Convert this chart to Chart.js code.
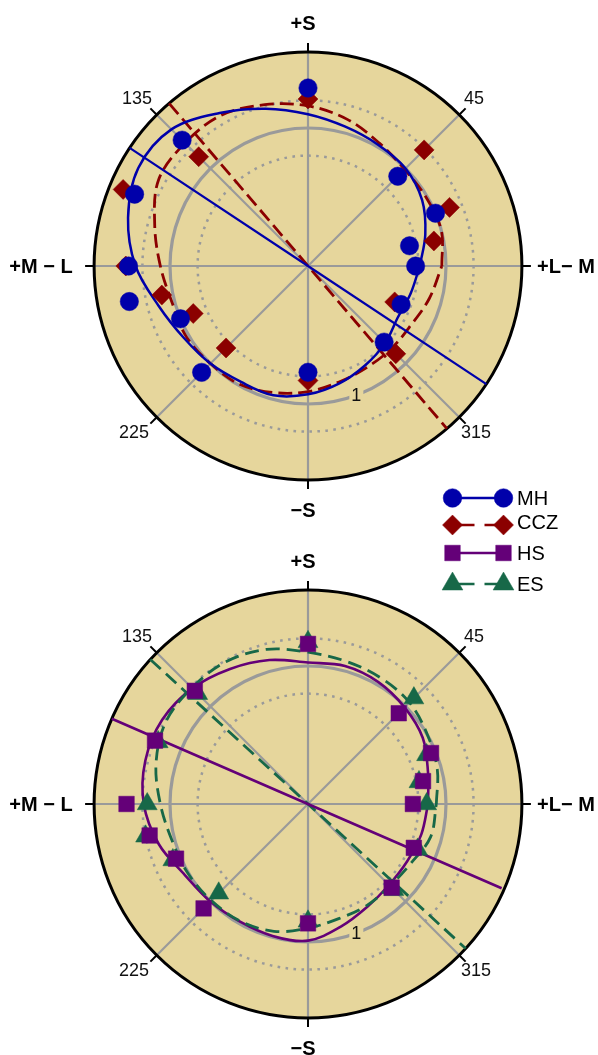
<!DOCTYPE html>
<html>
<head>
<meta charset="utf-8">
<script src="https://cdn.jsdelivr.net/npm/chart.js@4.4.0/dist/chart.umd.min.js"></script>
<style>
  html, body { margin: 0; padding: 0; background: #ffffff; }
  body { width: 598px; height: 1055px; position: relative; overflow: hidden; }
  canvas { position: absolute; left: 0; }
  #top { top: 0; }
  #bot { top: 538px; }
</style>
</head>
<body>
<canvas id="top" width="598" height="600"></canvas>
<canvas id="bot" width="598" height="517"></canvas>
<script>
// ---------------- DATA (angle in degrees, radius in normalized units) ----------------
const seriesNames = ['MH', 'CCZ', 'HS', 'ES'];

// Top panel: MH (circles) and CCZ (diamonds)
const mhTheta  = [0, 11.25, 22.5, 45, 90, 135, 157.5, 180, 191.25, 202.5, 225, 270, 315, 337.5];
const mhR      = [0.78, 0.75, 1.00, 0.92, 1.29, 1.29, 1.36, 1.30, 1.32, 1.00, 1.09, 0.77, 0.78, 0.73];
const cczTheta = [11.25, 22.5, 45, 90, 135, 157.5, 180, 191.25, 202.5, 225, 270, 315, 337.5];
const cczR     = [0.93, 1.11, 1.19, 1.21, 1.12, 1.45, 1.32, 1.08, 0.90, 0.84, 0.83, 0.90, 0.68];

// Bottom panel: HS (squares) and ES (triangles)
const hsTheta  = [0, 11.25, 22.5, 45, 90, 135, 157.5, 180, 191.25, 202.5, 225, 270, 315, 337.5];
const hsR      = [0.76, 0.85, 0.965, 0.93, 1.16, 1.16, 1.20, 1.315, 1.17, 1.035, 1.07, 0.865, 0.857, 0.83];
const esTheta  = [0, 11.25, 22.5, 45, 90, 135, 157.5, 180, 191.25, 202.5, 225, 270, 315, 337.5];
const esR      = [0.86, 0.82, 0.93, 1.085, 1.175, 1.13, 1.175, 1.165, 1.20, 1.06, 0.915, 0.85, 0.88, 0.86];

// Fitted contours, read every 15 degrees
const fitTheta = [0, 15, 30, 45, 60, 75, 90, 105, 120, 135, 150, 165, 180, 195, 210, 225, 240, 255, 270, 285, 300, 315, 330, 345];
const mhFitR   = [0.81, 0.88, 0.955, 1.00, 1.015, 1.045, 1.10, 1.18, 1.28, 1.40, 1.42, 1.35, 1.25, 1.12, 1.04, 1.00, 0.97, 0.97, 0.93, 0.88, 0.83, 0.79, 0.75, 0.77];
const cczFitR  = [0.97, 1.00, 0.99, 0.99, 1.03, 1.10, 1.16, 1.21, 1.26, 1.26, 1.25, 1.15, 1.07, 1.02, 1.02, 1.00, 0.99, 0.95, 0.91, 0.87, 0.85, 0.85, 0.86, 0.91];
const hsFitR   = [0.87, 0.90, 0.96, 0.99, 1.02, 1.035, 1.025, 1.08, 1.13, 1.185, 1.22, 1.22, 1.19, 1.12, 1.03, 1.00, 0.985, 0.99, 0.99, 0.92, 0.86, 0.83, 0.83, 0.85];
const esFitR   = [0.93, 0.97, 1.00, 1.04, 1.055, 1.07, 1.10, 1.16, 1.19, 1.19, 1.19, 1.14, 1.07, 1.02, 1.005, 0.99, 0.98, 0.955, 0.90, 0.86, 0.85, 0.84, 0.86, 0.92];

// Principal-axis lines: angle and extent of each end
const mhAxisAngle = 146.5,  mhAxisExt = [1.55, 1.55];
const cczAxisAngle = 130.5, cczAxisExt = [1.55, 1.55];
const hsAxisAngle = 156.5,  hsAxisExt = [1.55, 1.53];
const esAxisAngle = 137.5,  esAxisExt = [1.55, 1.55];

// Polar grid
const gridDotted = [0.8, 1.2];
const gridSolid = [1.0];
const gridOuter = 1.55;
const spokeAngles = [0, 45, 90, 135, 180, 225, 270, 315];
const angleLabels = ['45', '135', '225', '315'];
const ringLabel = '1';
const axisLabels = { top: '+S', bottom: '\u2212S', left: '+M \u2212 L', right: '+L\u2212 M' };

// ---------------- helpers ----------------
const D2R = Math.PI / 180;
function toXY(thetas, rs) {
  return thetas.map((t, i) => ({ x: rs[i] * Math.cos(t * D2R), y: rs[i] * Math.sin(t * D2R) }));
}
function closedXY(thetas, rs) { const p = toXY(thetas, rs); return p.concat([p[0]]); }
function axisXY(angle, ext) {
  return toXY([angle, angle + 180], ext);
}

const COL = { MH: '#0000aa', CCZ: '#8b0000', HS: '#640078', ES: '#176848' };
const TAN = 'rgb(230,214,156)';
const GRID = '#9a9a9a';
const FONT = '"Liberation Sans", Arial, sans-serif';

// polar background plugin
const polarBg = {
  id: 'polarBg',
  beforeDatasetsDraw(chart) {
    const { ctx, scales: { x, y } } = chart;
    const cx = x.getPixelForValue(0), cy = y.getPixelForValue(0);
    const u = x.getPixelForValue(1) - cx;
    const R = gridOuter * u;
    ctx.save();
    ctx.beginPath(); ctx.arc(cx, cy, R, 0, Math.PI * 2); ctx.fillStyle = TAN; ctx.fill();
    ctx.strokeStyle = GRID; ctx.lineWidth = 2.5; ctx.setLineDash([2.6, 5.4]);
    gridDotted.forEach(r => { ctx.beginPath(); ctx.arc(cx, cy, r * u, 0, Math.PI * 2); ctx.stroke(); });
    ctx.setLineDash([]);
    ctx.lineWidth = 2.2; ctx.strokeStyle = GRID;
    spokeAngles.forEach(a => {
      ctx.beginPath(); ctx.moveTo(cx, cy);
      ctx.lineTo(cx + R * Math.cos(a * D2R), cy - R * Math.sin(a * D2R)); ctx.stroke();
    });
    ctx.lineWidth = 3.2;
    gridSolid.forEach(r => { ctx.beginPath(); ctx.arc(cx, cy, r * u, 0, Math.PI * 2); ctx.stroke(); });
    const la = 290.5 * D2R;
    const lx = cx + u * Math.cos(la), ly = cy - u * Math.sin(la);
    ctx.fillStyle = TAN; ctx.fillRect(lx - 7, ly - 9, 14, 18);
    ctx.fillStyle = '#111'; ctx.font = '18px ' + FONT; ctx.textAlign = 'center'; ctx.textBaseline = 'middle';
    ctx.fillText(ringLabel, lx, ly + 1);
    ctx.beginPath(); ctx.arc(cx, cy, R, 0, Math.PI * 2); ctx.lineWidth = 3; ctx.strokeStyle = '#000'; ctx.stroke();
    ctx.lineWidth = 2;
    spokeAngles.forEach(a => {
      const c = Math.cos(a * D2R), s = Math.sin(a * D2R);
      ctx.beginPath(); ctx.moveTo(cx + R * c, cy - R * s); ctx.lineTo(cx + (R + 9) * c, cy - (R + 9) * s); ctx.stroke();
    });
    ctx.font = '18px ' + FONT; ctx.fillStyle = '#111'; ctx.textBaseline = 'middle';
    const te = R + 8;
    const d = te * Math.SQRT1_2;
    ctx.textAlign = 'left';  ctx.fillText(angleLabels[0], cx + d - 1, cy - d - 10);
    ctx.textAlign = 'right'; ctx.fillText(angleLabels[1], cx - d + 1, cy - d - 10);
    ctx.textAlign = 'right'; ctx.fillText(angleLabels[2], cx - d - 2, cy + d + 10);
    ctx.textAlign = 'left';  ctx.fillText(angleLabels[3], cx + d - 4, cy + d + 10);
    ctx.font = 'bold 20px ' + FONT; ctx.fillStyle = '#000'; ctx.textAlign = 'center';
    ctx.fillText(axisLabels.top, cx - 5, cy - 242);
    ctx.fillText(axisLabels.bottom, cx - 5, cy + 245);
    ctx.fillText(axisLabels.left, cx - 267, cy + 1);
    ctx.fillText(axisLabels.right, cx + 258, cy + 1);
    ctx.restore();
  }
};

const legendItems = [
  { name: seriesNames[0], color: COL.MH,  style: 'circle',  radius: 9.3, dash: [],       y: 498 },
  { name: seriesNames[1], color: COL.CCZ, style: 'rectRot', radius: 10,  dash: [22, 10], y: 525 },
  { name: seriesNames[2], color: COL.HS,  style: 'rect',    radius: 11,  dash: [],       y: 553 },
  { name: seriesNames[3], color: COL.ES,  style: 'triangle',radius: 12,  dash: [22, 10], y: 584 }
];
const legendPlugin = {
  id: 'pairLegend',
  afterDraw(chart) {
    const ctx = chart.ctx;
    ctx.save();
    legendItems.forEach(it => {
      const x1 = 452.5, x2 = 503.5;
      ctx.beginPath(); ctx.setLineDash(it.dash); ctx.strokeStyle = it.color; ctx.lineWidth = 2.5;
      ctx.moveTo(x1, it.y); ctx.lineTo(x2, it.y); ctx.stroke(); ctx.setLineDash([]);
      ctx.fillStyle = it.color; ctx.strokeStyle = it.color; ctx.lineWidth = 0.5;
      [x1, x2].forEach(px => Chart.helpers.drawPoint(ctx, { pointStyle: it.style, radius: it.radius, rotation: 0, borderWidth: 0.5 }, px, it.y));
      ctx.fillStyle = '#000'; ctx.font = '20px ' + FONT; ctx.textAlign = 'left'; ctx.textBaseline = 'middle';
      ctx.fillText(it.name, 517, it.y + (it.name === 'CCZ' ? -2 : 1));
    });
    ctx.restore();
  }
};

function lineDs(label, data, color, width, dash, order) {
  return { label, data, showLine: true, borderColor: color, borderWidth: width, borderDash: dash,
           pointRadius: 0, tension: 0.35, fill: false, order, clip: false };
}
function markDs(label, data, color, style, radius, order) {
  return { label, data, showLine: false, pointStyle: style, pointRadius: radius, pointHoverRadius: radius,
           backgroundColor: color, borderColor: color, borderWidth: 0.5, order, clip: false };
}

function makeOptions(canvasH) {
  const half = 1.6 * 138;
  return {
    responsive: false, maintainAspectRatio: false, animation: false, events: [],
    layout: { padding: { left: 308 - half, right: 598 - (308 + half), top: 266 - half, bottom: canvasH - (266 + half) } },
    plugins: { legend: { display: false }, tooltip: { enabled: false }, title: { display: false } },
    scales: {
      x: { type: 'linear', min: -1.6, max: 1.6, display: false },
      y: { type: 'linear', min: -1.6, max: 1.6, display: false }
    }
  };
}

new Chart(document.getElementById('top'), {
  type: 'scatter',
  data: { datasets: [
    lineDs('CCZ fit', closedXY(fitTheta, cczFitR), COL.CCZ, 2.8, [14, 6], 6),
    lineDs('CCZ axis', axisXY(cczAxisAngle, cczAxisExt), COL.CCZ, 2.8, [14, 6], 5),
    lineDs('MH fit', closedXY(fitTheta, mhFitR), COL.MH, 2.5, [], 4),
    lineDs('MH axis', axisXY(mhAxisAngle, mhAxisExt), COL.MH, 2.2, [], 3),
    markDs('CCZ', toXY(cczTheta, cczR), COL.CCZ, 'rectRot', 10, 2),
    markDs('MH', toXY(mhTheta, mhR), COL.MH, 'circle', 9.2, 1)
  ] },
  options: makeOptions(600),
  plugins: [polarBg, legendPlugin]
});

new Chart(document.getElementById('bot'), {
  type: 'scatter',
  data: { datasets: [
    lineDs('HS fit', closedXY(fitTheta, hsFitR), COL.HS, 2.6, [], 6),
    lineDs('ES fit', closedXY(fitTheta, esFitR), COL.ES, 2.8, [14, 7], 5),
    lineDs('ES axis', axisXY(esAxisAngle, esAxisExt), COL.ES, 2.8, [14, 7], 4),
    lineDs('HS axis', axisXY(hsAxisAngle, hsAxisExt), COL.HS, 2.6, [], 3),
    markDs('ES', toXY(esTheta, esR), COL.ES, 'triangle', 11.5, 2),
    markDs('HS', toXY(hsTheta, hsR), COL.HS, 'rect', 11, 1)
  ] },
  options: makeOptions(517),
  plugins: [polarBg]
});
</script>
</body>
</html>
